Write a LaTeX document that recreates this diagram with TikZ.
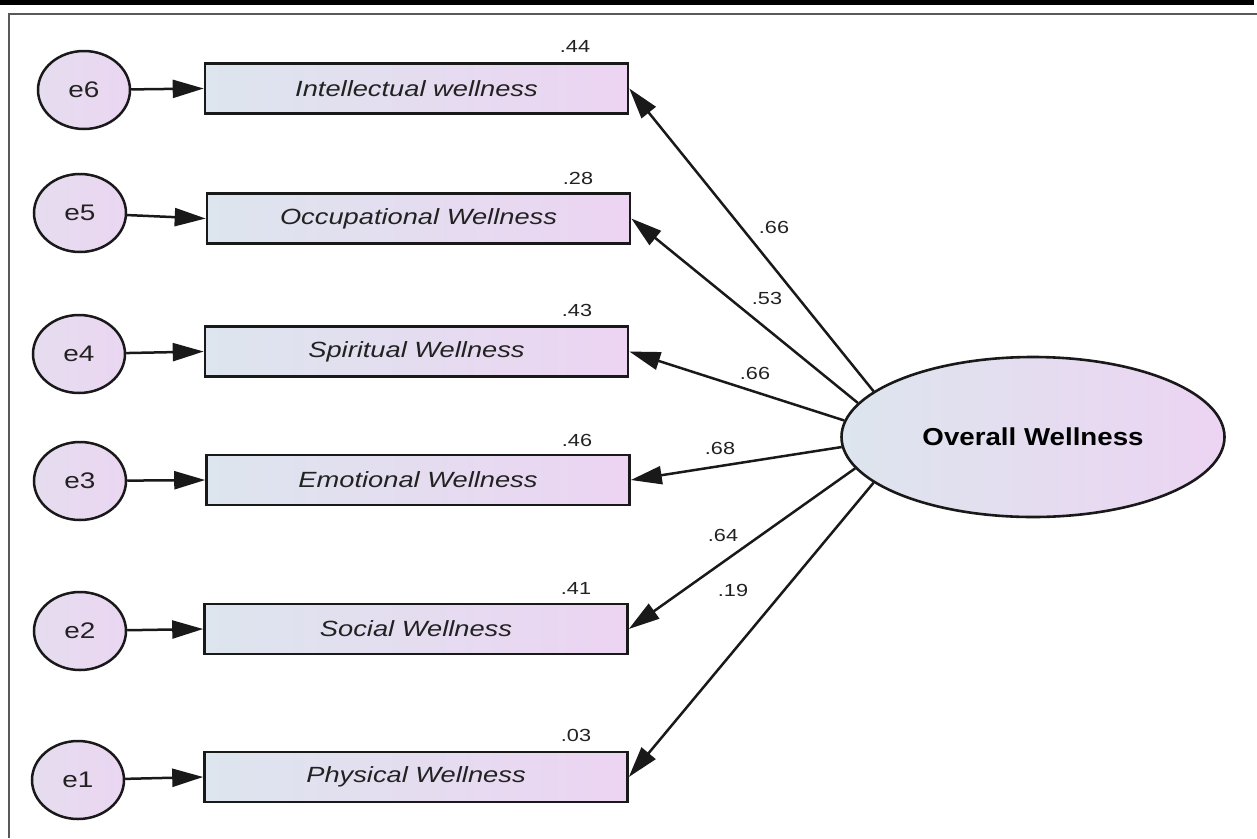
\documentclass[tikz,border=0pt]{standalone}
\usepackage{fontspec}
\setmainfont{Liberation Sans}
\newfontfamily\sw[FakeStretch=1.24]{Liberation Sans}
\newfontfamily\swb[FakeStretch=1.13]{Liberation Sans}
\usetikzlibrary{shapes.geometric,arrows.meta}
\definecolor{gl}{HTML}{DDE5EE}
\definecolor{gr}{HTML}{ECD4F2}
\definecolor{cl}{HTML}{E6DDEF}
\definecolor{cr}{HTML}{EAD6F1}
\definecolor{txt}{HTML}{222222}
\begin{document}
\begin{tikzpicture}[x=1pt,y=-1pt,
  obs/.style={draw=black!90, line width=2.6pt, minimum width=423pt, minimum height=50pt,
    inner sep=0pt, left color=gl, right color=gr, text=txt,
    font=\sw\itshape\fontsize{22}{26}\selectfont},
  err/.style={ellipse, draw=black!90, line width=2.5pt, minimum width=92pt, minimum height=78pt,
    inner sep=0pt, left color=cl, right color=cr, text=txt,
    font=\sw\fontsize{22.5}{26}\selectfont},
  lat/.style={ellipse, draw=black!90, line width=2.6pt, minimum width=383pt, minimum height=160pt,
    inner sep=0pt, left color=gl, right color=gr, text=black,
    font=\swb\bfseries\fontsize{24.5}{28}\selectfont},
  con/.style={draw=black!90, line width=2.5pt, -{Triangle[length=31pt,width=18pt]}},
  num/.style={inner sep=0pt, text=txt, font=\sw\fontsize{17.5}{21}\selectfont}
]
\useasboundingbox (0,0) rectangle (1257,838);
% page rules and frame
\fill[black] (0,0) rectangle (1254,4.5);
\draw[line width=2pt, black!65] (9,838) -- (9,14) -- (1257,14);

% observed variables
\node[obs] (b6) at (416.5,88.5) {Intellectual wellness};
\node[obs] (b5) at (418.5,218.5) {Occupational Wellness};
\node[obs] (b4) at (416.5,351.5) {Spiritual Wellness};
\node[obs] (b3) at (418,480) {Emotional Wellness};
\node[obs] (b2) at (416,629) {Social Wellness};
\node[obs] (b1) at (416,777) {Physical Wellness};

% error terms
\node[err] (e6) at (84,90) {e6};
\node[err] (e5) at (80,213) {e5};
\node[err] (e4) at (79,354) {e4};
\node[err] (e3) at (80,481) {e3};
\node[err] (e2) at (80,631) {e2};
\node[err] (e1) at (78,780) {e1};

\draw[con] (e6) -- (b6.west);
\draw[con] (e5) -- (b5.west);
\draw[con] (e4) -- (b4.west);
\draw[con] (e3) -- (b3.west);
\draw[con] (e2) -- (b2.west);
\draw[con] (e1) -- (b1.west);

% latent variable
\node[lat] (ov) at (1033,437) {Overall Wellness};

\draw[con] (ov.164.3) -- (b6.east);
\draw[con] (ov.169.4) -- (b5.east);
\draw[con] (ov.175.4) -- (b4.east);
\draw[con] (ov.183) -- (b3.east);
\draw[con] (ov.190.7) -- (b2.east);
\draw[con] (ov.196.9) -- (b1.east);

% loadings
\node[num] (l6) at (774,227) {.66};
\node[num] (l5) at (767,298) {.53};
\node[num] (l4) at (755,373) {.66};
\node[num] (l3) at (720,448) {.68};
\node[num] (l2) at (723,535) {.64};
\node[num] (l1) at (733,590) {.19};

% squared multiple correlations
\node[num] (v6) at (575,46) {.44};
\node[num] (v5) at (578,178) {.28};
\node[num] (v4) at (577,310) {.43};
\node[num] (v3) at (577,440) {.46};
\node[num] (v2) at (576,588) {.41};
\node[num] (v1) at (576,735) {.03};
\end{tikzpicture}
\end{document}
